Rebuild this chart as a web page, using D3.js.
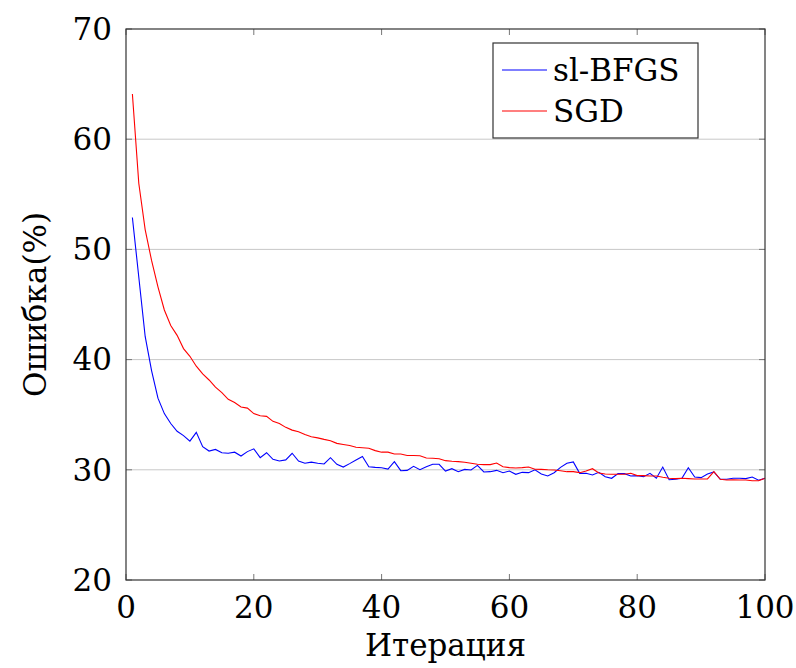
<!DOCTYPE html>
<html lang="ru">
<head>
  <meta charset="UTF-8">
  <title>Ошибка</title>
  <script src="https://cdnjs.cloudflare.com/ajax/libs/d3/7.8.5/d3.min.js"></script>
  <style>
    body { margin: 0; background: #fff; }
  </style>
</head>
<body>
<script>
// values, iterations 1..100
var blfgs = [52.9, 47.5, 42.1, 39.0, 36.5, 35.1, 34.2, 33.5, 33.1, 32.6,
  33.4, 32.1, 31.7, 31.85, 31.55, 31.5, 31.6, 31.25, 31.65, 31.9,
  31.1, 31.55, 30.95, 30.8, 30.9, 31.5, 30.8, 30.6, 30.7, 30.6,
  30.53, 31.1, 30.5, 30.25, 30.56, 30.89, 31.2, 30.28, 30.22, 30.19,
  30.07, 30.74, 29.92, 29.95, 30.31, 30.01, 30.28, 30.5, 30.5, 29.89,
  30.1, 29.83, 30.04, 29.98, 30.4, 29.8, 29.83, 29.95, 29.74, 29.89,
  29.59, 29.77, 29.74, 30.0, 29.62, 29.44, 29.74, 30.22, 30.59, 30.71,
  29.68, 29.68, 29.53, 29.77, 29.37, 29.23, 29.65, 29.65, 29.44, 29.47,
  29.37, 29.68, 29.23, 30.25, 29.1, 29.14, 29.23, 30.19, 29.35, 29.29,
  29.62, 29.8, 29.14, 29.14, 29.23, 29.23, 29.2, 29.35, 29.05, 29.23];

var sgd = [64.1, 56.0, 51.8, 49.0, 46.6, 44.5, 43.1, 42.2, 41.0, 40.3,
  39.4, 38.7, 38.15, 37.5, 37.0, 36.4, 36.1, 35.7, 35.6, 35.1,
  34.9, 34.85, 34.4, 34.2, 33.85, 33.6, 33.45, 33.2, 33.0, 32.9,
  32.76, 32.64, 32.4, 32.3, 32.2, 32.04, 32.0, 31.95, 31.74, 31.6,
  31.6, 31.43, 31.43, 31.3, 31.3, 31.27, 31.07, 31.05, 31.0, 30.83,
  30.77, 30.74, 30.68, 30.59, 30.5, 30.47, 30.47, 30.62, 30.28, 30.2,
  30.17, 30.2, 30.25, 30.05, 30.04, 30.0, 29.98, 29.92, 29.83, 29.83,
  29.74, 29.89, 30.1, 29.71, 29.62, 29.59, 29.59, 29.59, 29.68, 29.47,
  29.47, 29.44, 29.44, 29.32, 29.23, 29.2, 29.23, 29.2, 29.17, 29.17,
  29.17, 29.83, 29.14, 29.08, 29.1, 29.08, 29.08, 29.0, 29.0, 29.23];

var xTicks = [0, 20, 40, 60, 80, 100];
var yTicks = [20, 30, 40, 50, 60, 70];
var seriesNames = ["sl-BFGS", "SGD"];
var seriesColors = ["#0000ff", "#ff0000"];

var font = "'DejaVu Serif', 'Liberation Serif', serif";
var fs = "31px";

var margin = {top: 29, right: 31, bottom: 88, left: 126},
    width = 796 - margin.left - margin.right,
    height = 668 - margin.top - margin.bottom;

var svg = d3.select("body").append("svg")
    .attr("width", 796)
    .attr("height", 668)
    .attr("font-family", font);

var g = svg.append("g")
    .attr("transform", "translate(" + margin.left + "," + margin.top + ")");

var x = d3.scaleLinear().domain([0, 100]).range([0, width]);
var y = d3.scaleLinear().domain([20, 70]).range([height, 0]);

// horizontal grid
g.selectAll(".grid")
    .data(yTicks.slice(1, -1))
  .enter().append("line")
    .attr("x1", 0).attr("x2", width)
    .attr("y1", function(d) { return y(d); })
    .attr("y2", function(d) { return y(d); })
    .style("stroke", "#c8c8c8")
    .style("stroke-width", 1);

// inner tick marks (pgfplots style: on all four sides)
var tk = 6;
g.selectAll(".ytl").data(yTicks).enter().append("line")
    .attr("x1", 0).attr("x2", tk)
    .attr("y1", function(d) { return y(d); }).attr("y2", function(d) { return y(d); })
    .style("stroke", "#777");
g.selectAll(".ytr").data(yTicks).enter().append("line")
    .attr("x1", width - tk).attr("x2", width)
    .attr("y1", function(d) { return y(d); }).attr("y2", function(d) { return y(d); })
    .style("stroke", "#777");
g.selectAll(".xtb").data(xTicks).enter().append("line")
    .attr("x1", function(d) { return x(d); }).attr("x2", function(d) { return x(d); })
    .attr("y1", height - tk).attr("y2", height)
    .style("stroke", "#777");
g.selectAll(".xtt").data(xTicks).enter().append("line")
    .attr("x1", function(d) { return x(d); }).attr("x2", function(d) { return x(d); })
    .attr("y1", 0).attr("y2", tk)
    .style("stroke", "#777");

// tick labels
g.selectAll(".xl").data(xTicks).enter().append("text")
    .attr("x", function(d) { return x(d); })
    .attr("y", height + 38)
    .attr("text-anchor", "middle")
    .style("font-size", fs)
    .text(function(d) { return d; });
g.selectAll(".yl").data(yTicks).enter().append("text")
    .attr("x", -14)
    .attr("y", function(d) { return y(d); })
    .attr("dy", "0.35em")
    .attr("text-anchor", "end")
    .style("font-size", fs)
    .text(function(d) { return d; });

// lines
var line = d3.line()
    .x(function(d, i) { return x(i + 1); })
    .y(function(d) { return y(d); });

[blfgs, sgd].forEach(function(s, k) {
  g.append("path")
      .datum(s)
      .attr("d", line)
      .style("fill", "none")
      .style("stroke", seriesColors[k])
      .style("stroke-width", 1.1);
});

// frame
g.append("rect")
    .attr("width", width).attr("height", height)
    .style("fill", "none")
    .style("stroke", "#333")
    .style("stroke-width", 1.2);

// axis titles
svg.append("text")
    .attr("x", margin.left + width / 2)
    .attr("y", 656)
    .attr("text-anchor", "middle")
    .style("font-size", fs)
    .text("Итерация");
svg.append("text")
    .attr("transform", "translate(46," + (margin.top + height / 2) + ") rotate(-90)")
    .attr("text-anchor", "middle")
    .style("font-size", fs)
    .text("Ошибка(%)");

// legend
var lg = svg.append("g").attr("transform", "translate(493,43)");
lg.append("rect")
    .attr("width", 205).attr("height", 95)
    .style("fill", "#fff")
    .style("stroke", "#333")
    .style("stroke-width", 1.2);
seriesNames.forEach(function(n, k) {
  var yy = 27 + k * 41;
  lg.append("line")
      .attr("x1", 9).attr("x2", 54)
      .attr("y1", yy).attr("y2", yy)
      .style("stroke", seriesColors[k])
      .style("stroke-width", 1.1);
  lg.append("text")
      .attr("x", 60).attr("y", yy)
      .attr("dy", "0.35em")
      .style("font-size", fs)
      .text(n);
});
</script>
</body>
</html>
